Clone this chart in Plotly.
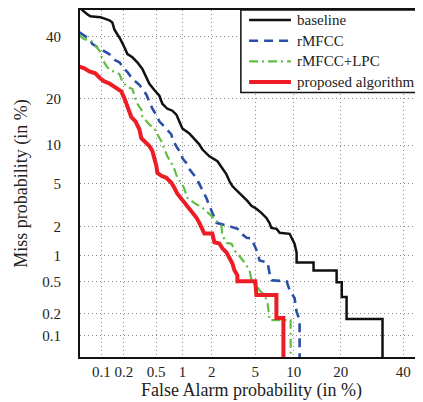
from statistics import NormalDist
import plotly.graph_objects as go

# DET curves, values in %
baseline_fa = [0.0506, 0.054, 0.0637, 0.0703, 0.097, 0.129, 0.141, 0.15, 0.164, 0.18, 0.203, 0.222, 0.257, 0.296, 0.342,
               0.372, 0.416, 0.477, 0.547, 0.592, 0.676, 0.77, 0.854, 0.921, 0.994, 1.18, 1.33, 1.5, 1.61, 1.9, 2.28,
               2.54, 2.77, 2.96, 3.15, 3.5, 3.88, 4.29, 4.65, 5.12, 5.63, 6.19, 6.54, 6.78, 7.44, 7.85, 9.33, 9.65,
               10.13, 10.47, 10.47, 13.65, 13.65, 18.96, 18.96, 20.3, 20.3, 21.6, 21.6, 32.7, 32.7]
baseline_miss = [51, 49.9, 48.4, 47.6, 47.3, 46.1, 45.3, 42.7, 40.9, 39.1, 36.2, 33.8, 32.7, 31.0, 28.8, 26.9, 24.2,
                 22.4, 20.8, 18.7, 17.45, 16.98, 16.06, 14.5, 13.05, 12.08, 11.17, 10.13, 9.33, 8.27, 7.57, 6.69, 5.98,
                 5.24, 4.75, 4.30, 3.90, 3.51, 3.17, 2.97, 2.72, 2.43, 2.18, 1.94, 1.90, 1.73, 1.69, 1.51, 1.33, 1.07,
                 0.833, 0.833, 0.677, 0.677, 0.491, 0.491, 0.324, 0.324, 0.169, 0.169, 0.02]

rmfcc_fa = [0.049, 0.0576, 0.0682, 0.0753, 0.0882, 0.103, 0.128, 0.154, 0.175, 0.203, 0.222, 0.257, 0.314, 0.342,
            0.383, 0.417, 0.453, 0.491, 0.548, 0.625, 0.677, 0.752, 0.771, 0.877, 0.971, 0.995, 1.10, 1.18, 1.40,
            1.51, 1.62, 1.77, 1.90, 2.04, 2.23, 2.84, 3.51, 3.82, 4.22, 4.66, 4.94, 5.24, 5.44, 6.33, 6.56, 6.81,
            8.86, 9.33, 10.13, 10.47, 10.99, 10.99]
rmfcc_miss = [41.6, 40.5, 39.1, 37.3, 36.2, 35.2, 33.8, 31.7, 31.0, 28.8, 27.8, 25.7, 23.9, 22.7, 21.1, 19.2, 17.45,
              16.3, 14.5, 13.45, 12.85, 11.89, 10.99, 9.49, 8.71, 7.99, 7.31, 6.56, 5.55, 4.94, 4.30, 3.74, 3.17,
              2.66, 2.18, 2.04, 1.90, 1.69, 1.54, 1.51, 1.27, 1.07, 0.877, 0.833, 0.625, 0.519, 0.505, 0.394, 0.314,
              0.209, 0.164, 0.02]

lpc_fa = [0.049, 0.0576, 0.0706, 0.0828, 0.0969, 0.103, 0.120, 0.132, 0.175, 0.192, 0.222, 0.257, 0.280, 0.297,
          0.333, 0.342, 0.417, 0.478, 0.519, 0.578, 0.625, 0.677, 0.752, 0.812, 0.877, 0.971, 1.045, 1.125, 1.33,
          1.617, 1.90, 2.23, 2.49, 2.545, 2.78, 3.10, 3.30, 3.51, 4.05, 4.48, 4.66, 5.44, 5.98, 6.33, 6.44, 6.56,
          9.49, 9.49]
lpc_miss = [40.5, 39.1, 38.75, 36.9, 34.5, 32.05, 29.4, 28.45, 27.2, 24.75, 23.3, 22.7, 20.0, 18.7, 17.2, 15.6,
            13.86, 13.05, 11.89, 10.64, 9.33, 8.27, 7.31, 6.56, 5.55, 5.04, 4.48, 3.74, 3.37, 3.03, 2.66, 2.28, 2.04,
            1.617, 1.366, 1.33, 1.125, 1.045, 0.833, 0.677, 0.519, 0.394, 0.342, 0.272, 0.203, 0.164, 0.164, 0.02]

prop_fa = [0.0489, 0.0577, 0.0681, 0.0826, 0.097, 0.11, 0.129, 0.15, 0.164, 0.185, 0.203, 0.215, 0.228, 0.249, 0.28,
           0.314, 0.332, 0.362, 0.416, 0.452, 0.477, 0.504, 0.518, 0.577, 0.659, 0.751, 0.811, 0.876, 0.969, 1.1,
           1.24, 1.4, 1.5, 1.61, 1.69, 2.03, 2.13, 2.38, 2.54, 2.77, 2.96, 3.15, 3.29, 3.5, 3.5, 5.02, 5.12, 7.42,
           7.42, 8.39, 8.39]
prop_miss = [29.6, 29, 28, 27.4, 25.8, 24.9, 24.3, 23.4, 22.6, 22, 20.1, 18.6, 16.9, 15.5, 14.6, 12.9, 11.2, 10.7,
             9.86, 9.06, 8.03, 6.97, 6.13, 5.79, 5.58, 5.07, 4.59, 4.07, 3.68, 3.25, 2.79, 2.45, 2.19, 1.83, 1.7, 1.7,
             1.38, 1.34, 1.19, 1.08, 0.927, 0.815, 0.679, 0.595, 0.506, 0.506, 0.343, 0.343, 0.175, 0.175, 0.0229]

tick_pct = [0.1, 0.2, 0.5, 1, 2, 5, 10, 20, 40]
tick_text = ["0.1", "0.2", "0.5", "1", "2", "5", "10", "20", "40"]

nd = NormalDist()


def probit(vals):
    # normal deviate scale used by DET plots
    return [nd.inv_cdf(v / 100.0) for v in vals]


FONT = "Liberation Serif, serif"

series = [
    ("baseline", baseline_fa, baseline_miss, dict(color="#111111", width=2.5)),
    ("rMFCC", rmfcc_fa, rmfcc_miss, dict(color="#2b4ea6", width=2.6, dash="9px,6px")),
    ("rMFCC+LPC", lpc_fa, lpc_miss, dict(color="#62bd45", width=2.2, dash="9px,4px,2px,4px")),
    ("proposed algorithm", prop_fa, prop_miss, dict(color="#ee1d25", width=4)),
]

fig = go.Figure()
for name, fa, miss, line in series:
    fig.add_trace(go.Scatter(x=probit(fa), y=probit(miss), mode="lines", name=name, line=line,
                             showlegend=False))

# legend drawn by hand (MATLAB style box, tight rows)
leg_x0, leg_y0, leg_y1 = 0.469, 0.762, 1.0
row_h = 0.0595
fig.add_shape(type="rect", xref="paper", yref="paper", x0=leg_x0, x1=1.05, y0=leg_y0, y1=leg_y1,
              line=dict(color="#111", width=1.5), fillcolor="white", layer="above")
for i, (name, fa, miss, line) in enumerate(series):
    yy = 0.971 - i * row_h
    fig.add_shape(type="line", xref="paper", yref="paper", x0=0.493, x1=0.615, y0=yy, y1=yy,
                  line=line, layer="above")
    fig.add_annotation(xref="paper", yref="paper", x=0.627, y=yy, text=name, showarrow=False,
                       xanchor="left", yanchor="middle", font=dict(family=FONT, size=15, color="#222"))

# page has an 8px body margin, so the figure is a bit smaller than the window
fig.update_layout(
    width=415, height=394,
    margin=dict(l=72, r=0, t=0, b=45),
    plot_bgcolor="white", paper_bgcolor="white",
    font=dict(family=FONT, size=15, color="#222"),
    showlegend=False,
)
fig.update_xaxes(
    range=[nd.inv_cdf(0.0005), nd.inv_cdf(0.473)],
    tickvals=probit(tick_pct), ticktext=tick_text,
    showgrid=True, gridcolor="#888", griddash="1px,3px", gridwidth=1, zeroline=False,
    showline=True, linecolor="#111", linewidth=2, mirror=True,
    ticks="", ticklabelstandoff=0,
    title=dict(text="False Alarm probability (in %)", font=dict(size=18, family=FONT), standoff=2),
)
fig.update_yaxes(
    range=[nd.inv_cdf(0.0005), 0],
    tickvals=probit(tick_pct), ticktext=tick_text,
    showgrid=True, gridcolor="#888", griddash="1px,3px", gridwidth=1, zeroline=False,
    showline=True, linecolor="#111", linewidth=2,
    ticks="", ticklabelstandoff=14,
    title=dict(text="Miss probability (in %)", font=dict(size=18, family=FONT), standoff=10),
)

fig.write_html("out.html")
